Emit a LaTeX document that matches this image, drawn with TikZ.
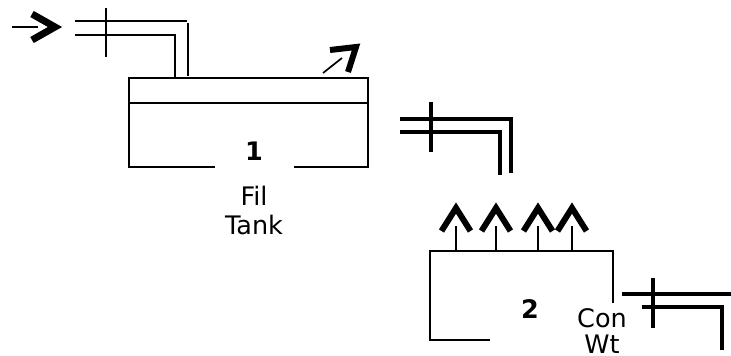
\documentclass[tikz,border=0pt]{standalone}
\usepackage{fontspec}
\setmainfont{DejaVu Sans}
\tikzset{
  thinline/.style={line width=1.7pt,black},
  medline/.style={line width=2pt,black},
  heavyline/.style={line width=3.6pt,black},
  chevron/.style={line width=7pt,black,miter limit=10},
  chevronsmall/.style={line width=6pt,black,miter limit=10},
  lab/.style={font=\fontsize{25.5}{28}\selectfont,inner sep=0pt,text=black},
  num/.style={font=\fontsize{25.5}{28}\selectfont\bfseries,inner sep=0pt},
}
\begin{document}
\begin{tikzpicture}[x=1pt,y=-1pt]
\useasboundingbox (0,0) rectangle (731,356);
% inlet arrow
\draw[thinline] (12,27) -- (38,27);
\draw[chevron] (32,14) -- (55,27) -- (32,40);
% inlet pipe
\draw[medline] (75,21) -- (187,21);
\draw[medline] (187.5,23) -- (187.5,76);
\draw[medline] (75,34.5) -- (175,34.5) -- (175,78);
\draw[medline] (106,8) -- (106,57);
% tank 1
\draw[medline] (215,167) -- (129,167) -- (129,78) -- (368,78) -- (368,167) -- (294,167);
\draw[medline] (129,103) -- (368,103);
\node[num] (n1) at (254,151) {1};
\node[lab] (fil) at (254,196) {Fil};
\node[lab] (tank) at (254,225) {Tank};
% vent arrow
\draw[thinline] (323,73) -- (342,58);
\draw[chevronsmall] (330,50) -- (356,47) -- (348,72);
% pipe to tank 2
\draw[heavyline] (400,119) -- (511,119) -- (511,173);
\draw[heavyline] (400,132) -- (500,132) -- (500,175);
\draw[heavyline] (431,102) -- (431,152);
% tank 2 arrows
\foreach \px/\pn in {456/a,496/b,538/c,572/d}{
  \draw[thinline] (\px,226) -- (\px,251);
  \draw[chevronsmall] (\px-14.5,231) -- (\px,208) -- (\px+14.5,231);
}
% tank 2
\draw[medline] (490,340) -- (430,340) -- (430,251) -- (613,251) -- (613,303);
\node[num] (n2) at (530,309) {2};
\node[lab] (con) at (602,318) {Con};
\node[lab] (wt) at (602,344.5) {Wt};
% outlet pipe
\draw[heavyline] (622,294) -- (731,294);
\draw[heavyline] (642,307) -- (722,307) -- (722,350);
\draw[heavyline] (653,278) -- (653,328);
\end{tikzpicture}
\end{document}
